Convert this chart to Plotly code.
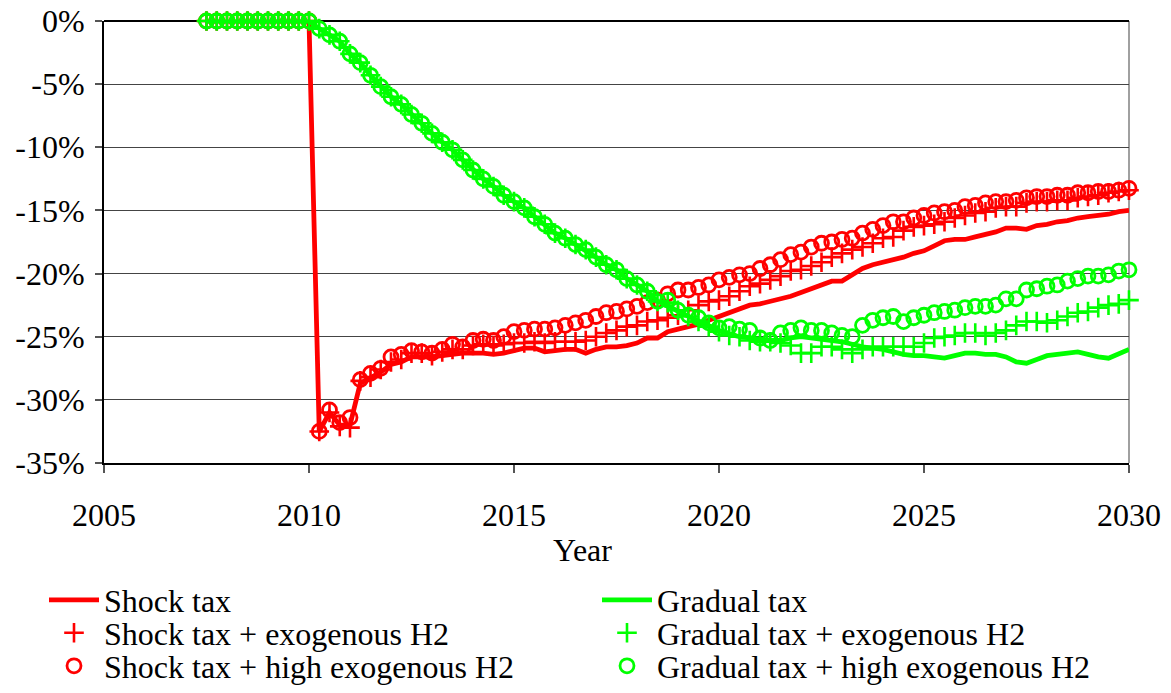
import plotly.graph_objects as go

# Quarterly time axis, mid-2007 to 2030
years = [2007.5 + 0.25 * i for i in range(91)]

# Change relative to baseline, in percent
shock_tax = [
    0, 0, 0, 0, 0, 0, 0, 0, 0, 0, 0,
    -32.5, -31.0, -32.0, -32.0, -28.7, -28.3, -27.8, -27.2, -27.0, -26.6,
    -26.6, -26.6, -26.5, -26.4, -26.3, -26.3, -26.3, -26.4, -26.3, -26.1,
    -25.9, -25.9, -26.2, -26.1, -26.0, -26.0, -26.3, -26.0, -25.8, -25.8,
    -25.7, -25.5, -25.1, -25.1, -24.6, -24.4, -24.2, -24.0, -23.7, -23.4,
    -23.1, -22.8, -22.5, -22.4, -22.2, -22.0, -21.8, -21.5, -21.2, -20.9,
    -20.6, -20.6, -20.1, -19.6, -19.3, -19.1, -18.9, -18.7, -18.4, -18.2,
    -17.8, -17.4, -17.3, -17.3, -17.1, -16.9, -16.7, -16.4, -16.4, -16.5,
    -16.2, -16.1, -15.9, -15.8, -15.6, -15.5, -15.4, -15.3, -15.1, -15.0,
]

shock_tax_exo_h2 = [
    0, 0, 0, 0, 0, 0, 0, 0, 0, 0, 0,
    -32.5, -31.0, -32.1, -32.2, -28.5, -28.2, -27.6, -27.0, -26.8, -26.3,
    -26.3, -26.5, -26.2, -26.0, -26.0, -25.7, -25.6, -25.7, -25.6, -25.5,
    -25.5, -25.4, -25.5, -25.4, -25.4, -25.4, -25.3, -25.0, -24.7, -24.5,
    -24.2, -24.1, -23.8, -23.7, -23.5, -23.3, -22.9, -22.5, -22.2, -22.1,
    -21.8, -21.4, -21.0, -20.8, -20.5, -20.2, -19.8, -19.7, -19.4, -19.1,
    -18.7, -18.4, -18.1, -17.9, -17.6, -17.2, -17.1, -16.6, -16.3, -16.2,
    -16.1, -15.9, -15.6, -15.4, -15.2, -15.1, -14.8, -14.7, -14.7, -14.4,
    -14.3, -14.3, -14.2, -14.2, -14.0, -13.9, -13.8, -13.6, -13.5, -13.4,
]

shock_tax_high_exo_h2 = [
    0, 0, 0, 0, 0, 0, 0, 0, 0, 0, 0,
    -32.5, -30.8, -31.8, -31.4, -28.4, -27.9, -27.5, -26.6, -26.4, -26.1,
    -26.2, -26.3, -26.0, -25.6, -25.8, -25.3, -25.2, -25.3, -25.0, -24.6,
    -24.5, -24.4, -24.4, -24.3, -24.1, -23.9, -23.7, -23.4, -23.1, -23.0,
    -22.8, -22.6, -22.3, -22.1, -21.6, -21.3, -21.3, -21.1, -20.9, -20.5,
    -20.3, -20.1, -20.0, -19.6, -19.3, -18.9, -18.5, -18.3, -17.9, -17.6,
    -17.5, -17.3, -17.2, -16.8, -16.5, -16.2, -15.9, -15.9, -15.6, -15.4,
    -15.2, -15.1, -15.0, -14.7, -14.6, -14.4, -14.3, -14.3, -14.2, -14.0,
    -13.9, -13.9, -13.8, -13.8, -13.6, -13.6, -13.5, -13.5, -13.4, -13.25,
]

gradual_tax = [
    0, 0, 0, 0, 0, 0, 0, 0, 0, 0, 0,
    -0.6, -1.1, -1.6, -2.6, -3.3, -4.3, -5.2, -6.0, -6.6, -7.4,
    -8.1, -8.9, -9.6, -10.2, -11.0, -11.8, -12.5, -13.1, -13.8, -14.3,
    -14.8, -15.5, -16.1, -16.8, -17.2, -17.7, -18.1, -18.7, -19.3, -19.7,
    -20.4, -20.9, -21.4, -22.2, -22.5, -23.0, -23.4, -23.8, -24.2, -24.5,
    -24.8, -25.0, -25.1, -25.2, -25.3, -25.3, -25.1, -25.0, -25.1, -25.2,
    -25.3, -25.4, -25.6, -25.8, -25.9, -26.0, -26.2, -26.4, -26.5, -26.5,
    -26.6, -26.7, -26.5, -26.3, -26.3, -26.4, -26.4, -26.6, -27.0, -27.1,
    -26.8, -26.5, -26.4, -26.3, -26.2, -26.4, -26.6, -26.7, -26.4, -26.0,
]

gradual_tax_exo_h2 = [
    0, 0, 0, 0, 0, 0, 0, 0, 0, 0, 0,
    -0.6, -1.1, -1.6, -2.6, -3.3, -4.3, -5.2, -6.0, -6.6, -7.4,
    -8.1, -8.9, -9.6, -10.2, -11.0, -11.8, -12.5, -13.1, -13.8, -14.3,
    -14.8, -15.5, -16.1, -16.8, -17.2, -17.7, -18.1, -18.7, -19.3, -19.7,
    -20.4, -20.9, -21.4, -22.2, -22.3, -22.9, -23.4, -23.8, -24.2, -24.6,
    -24.9, -25.0, -25.3, -25.4, -25.4, -25.5, -25.7, -26.3, -26.3, -25.8,
    -25.8, -26.0, -26.3, -26.0, -25.8, -25.8, -25.8, -25.8, -25.8, -25.5,
    -25.1, -25.0, -24.9, -24.7, -24.7, -24.9, -24.7, -24.5, -24.1, -23.8,
    -23.8, -23.9, -23.7, -23.4, -23.1, -23.0, -22.7, -22.5, -22.4, -22.1,
]

gradual_tax_high_exo_h2 = [
    0, 0, 0, 0, 0, 0, 0, 0, 0, 0, 0,
    -0.6, -1.1, -1.6, -2.6, -3.3, -4.3, -5.2, -6.0, -6.6, -7.4,
    -8.1, -8.9, -9.6, -10.2, -11.0, -11.8, -12.5, -13.1, -13.8, -14.3,
    -14.8, -15.5, -16.1, -16.8, -17.2, -17.7, -18.1, -18.7, -19.3, -19.7,
    -20.4, -20.9, -21.4, -22.2, -22.1, -22.9, -23.3, -23.5, -23.9, -24.3,
    -24.2, -24.4, -24.5, -25.1, -25.3, -24.7, -24.5, -24.3, -24.5, -24.5,
    -24.7, -24.9, -25.0, -24.1, -23.7, -23.5, -23.4, -23.8, -23.5, -23.3,
    -23.1, -23.0, -22.9, -22.7, -22.6, -22.6, -22.5, -22.0, -22.0, -21.3,
    -21.2, -21.0, -20.9, -20.6, -20.4, -20.2, -20.2, -20.1, -19.8, -19.7,
]

y_ticks = [0, -5, -10, -15, -20, -25, -30, -35]
y_tick_labels = ["0%", "-5%", "-10%", "-15%", "-20%", "-25%", "-30%", "-35%"]
x_ticks = [2005, 2010, 2015, 2020, 2025, 2030]
x_tick_labels = ["2005", "2010", "2015", "2020", "2025", "2030"]

RED = "#FF0000"
GREEN = "#00FF00"
FONT = "Liberation Serif"
FS = 32

for series in (shock_tax, shock_tax_exo_h2, shock_tax_high_exo_h2,
               gradual_tax, gradual_tax_exo_h2, gradual_tax_high_exo_h2):
    assert len(series) == len(years), len(series)

W, H = 1171, 693
plot_left, plot_right, plot_top, plot_bottom = 104, 1129, 21, 463
pw = plot_right - plot_left
ph = plot_bottom - plot_top

# Legend grid: two columns, three rows (pixel positions of each entry)
col_px = [44, 597]
row_px = [600, 633, 666]

fig = go.Figure()
legend_layouts = {}


def legend_slot(key, col, row):
    legend_layouts[key] = dict(
        orientation="h",
        x=(col_px[col] - plot_left) / pw, xanchor="left",
        y=(plot_bottom - row_px[row]) / ph, yanchor="middle",
        itemwidth=50,
        font=dict(family=FONT, size=FS, color="black"),
        bgcolor="rgba(0,0,0,0)",
    )
    return key


def add_line(name, values, color, legend):
    fig.add_trace(go.Scatter(
        x=years, y=values, name=name, mode="lines",
        line=dict(color=color, width=4.8),
        legend=legend, cliponaxis=False,
    ))


def add_markers(name, values, color, symbol, size, width, legend):
    fig.add_trace(go.Scatter(
        x=years, y=values, name=name, mode="markers",
        marker=dict(symbol=symbol, size=size, color=color,
                    line=dict(color=color, width=width)),
        legend=legend, cliponaxis=False,
    ))


add_line("Shock tax", shock_tax, RED, legend_slot("legend", 0, 0))
add_markers("Shock tax + exogenous H2", shock_tax_exo_h2, RED,
            "cross-thin-open", 14, 2.6, legend_slot("legend2", 0, 1))
add_markers("Shock tax + high exogenous H2", shock_tax_high_exo_h2, RED,
            "circle-open", 14, 2.8, legend_slot("legend3", 0, 2))
add_line("Gradual tax", gradual_tax, GREEN, legend_slot("legend4", 1, 0))
add_markers("Gradual tax + exogenous H2", gradual_tax_exo_h2, GREEN,
            "cross-thin-open", 14, 2.6, legend_slot("legend5", 1, 1))
add_markers("Gradual tax + high exogenous H2", gradual_tax_high_exo_h2, GREEN,
            "circle-open", 14, 2.8, legend_slot("legend6", 1, 2))

fig.update_layout(
    width=W, height=H,
    margin=dict(l=plot_left, r=W - plot_right, t=plot_top, b=H - plot_bottom,
                autoexpand=False),
    paper_bgcolor="white", plot_bgcolor="white",
    font=dict(family=FONT, size=FS, color="black"),
    showlegend=True,
    xaxis=dict(
        range=[2005, 2030], tickvals=x_ticks, ticktext=x_tick_labels,
        ticks="outside", ticklen=8,
        tickwidth=1.5, tickcolor="#555555", showgrid=False, zeroline=False,
        showline=True, linecolor="black", linewidth=2,
        tickfont=dict(family=FONT, size=FS, color="black"),
        ticklabelstandoff=15,
    ),
    yaxis=dict(
        range=[-35, 0], tickvals=y_ticks, ticktext=y_tick_labels,
        ticks="outside", ticklen=7, tickwidth=1.5, tickcolor="#555555",
        showgrid=True, gridcolor="#444444", gridwidth=1.3,
        zeroline=True, zerolinecolor="black", zerolinewidth=1.5,
        showline=True, linecolor="black", linewidth=2,
        tickfont=dict(family=FONT, size=FS, color="black"),
        ticklabelstandoff=4,
    ),
    annotations=[dict(
        text="Year", x=(582 - plot_left) / pw, y=(plot_bottom - 550) / ph,
        xref="paper", yref="paper", showarrow=False,
        font=dict(family=FONT, size=FS, color="black"),
        xanchor="center", yanchor="middle",
    )],
    shapes=[dict(
        type="line", xref="paper", yref="paper", x0=1, x1=1, y0=0, y1=1,
        line=dict(color="#808080", width=1.5), layer="below",
    )],
    **legend_layouts,
)

fig.write_html("out.html")
